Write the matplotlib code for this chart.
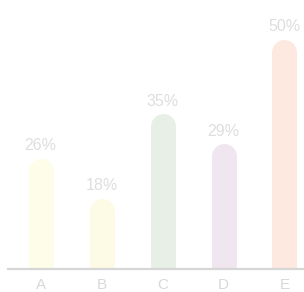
import matplotlib
matplotlib.use("Agg")
import matplotlib.pyplot as plt

categories = ["A", "B", "C", "D", "E"]
values = [26, 18, 35, 29, 50]
labels = ["26%", "18%", "35%", "29%", "50%"]
colors = ["#fdfde9", "#fdfbe5", "#e7efe7", "#efe6ef", "#fde9df"]

plt.rcParams['font.family'] = ['Liberation Sans', 'DejaVu Sans']

fig = plt.figure(figsize=(3.04, 2.92), dpi=100)
fig.patch.set_facecolor("white")
ax = fig.add_axes([8/304, (292-268.5)/292, 296/304, 268.5/292])
ax.set_facecolor("none")

x = list(range(len(categories)))
ymin, ymax = 6.45, 60.43
for xi, v, c, lab in zip(x, values, colors, labels):
    ax.plot([xi, xi], [ymin - 10, v], color=c, lw=18, solid_capstyle="round", zorder=2)
    ax.annotate(lab, xy=(xi, v), xytext=(0, 15), textcoords="offset points",
                ha="center", va="baseline", fontsize=11.5, color="#dedede",
                annotation_clip=False)

ax.set_xlim(-0.537, 4.32)
ax.set_ylim(ymin, ymax)
ax.set_xticks(x)
ax.set_xticklabels(categories, fontsize=11, color="#d8d8d8")
ax.tick_params(axis="x", length=0, pad=7)
ax.set_yticks([])
for s in ["top", "left", "right"]:
    ax.spines[s].set_visible(False)
ax.spines["bottom"].set_color("#d6d6d6")
ax.spines["bottom"].set_linewidth(1.6)
ax.spines["bottom"].set_zorder(3)

fig.savefig("out.png", dpi=100)
